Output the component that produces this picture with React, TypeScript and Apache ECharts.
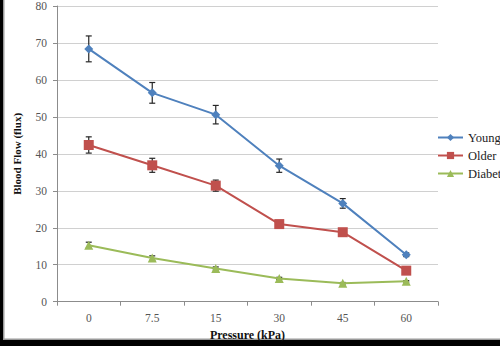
import React, { useEffect, useRef } from "react";
import * as echarts from "echarts";

const categories = ["0", "7.5", "15", "30", "45", "60"];
const young = [68.4, 56.5, 50.6, 36.8, 26.6, 12.7];
const youngErr = [3.5, 2.8, 2.5, 1.8, 1.3, 0.5];
const older = [42.4, 36.9, 31.4, 21.0, 18.8, 8.4];
const olderErr = [2.2, 1.9, 1.5, 0.8, 0.8, 0.4];
const diabetic = [15.3, 11.8, 9.0, 6.3, 5.0, 5.5];
const diabeticErr = [0.8, 0.6, 0.4, 0.3, 0.2, 0.2];

const seriesNames = ["Young", "Older", "Diabetic"];
const colors = ["#4F81BD", "#C0504D", "#9BBB59"];

function errorSeries(values: number[], errs: number[]) {
  return {
    type: "custom",
    silent: true,
    z: 1,
    data: values.map((v, i) => [i, v - errs[i], v + errs[i]]),
    renderItem: (params: any, api: any) => {
      const x = api.value(0);
      const lo = api.coord([x, api.value(1)]);
      const hi = api.coord([x, api.value(2)]);
      const cap = 3;
      const style = { stroke: "#262626", lineWidth: 1.2 };
      return {
        type: "group",
        children: [
          { type: "line", shape: { x1: lo[0], y1: lo[1], x2: hi[0], y2: hi[1] }, style },
          { type: "line", shape: { x1: lo[0] - cap, y1: lo[1], x2: lo[0] + cap, y2: lo[1] }, style },
          { type: "line", shape: { x1: hi[0] - cap, y1: hi[1], x2: hi[0] + cap, y2: hi[1] }, style },
        ],
      };
    },
  };
}

export default function App() {
  const ref = useRef<HTMLDivElement>(null);
  useEffect(() => {
    if (!ref.current) return;
    const chart = echarts.init(ref.current, undefined, { renderer: "svg" });
    const font = "Liberation Serif";
    const lineSeries = [young, older, diabetic].map((d, i) => ({
      name: seriesNames[i],
      type: "line",
      data: d,
      z: 3,
      symbol: ["diamond", "rect", "triangle"][i],
      symbolSize: [9, 10, 9][i],
      lineStyle: { color: colors[i], width: 2 },
      itemStyle: { color: colors[i] },
    }));
    chart.setOption({
      animation: false,
      backgroundColor: "#ffffff",
      textStyle: { fontFamily: font },
      grid: { left: 57, right: 62, top: 2.3, bottom: 44.3, containLabel: false },
      legend: {
        data: seriesNames,
        orient: "vertical",
        left: 437,
        top: 131,
        padding: 0,
        itemWidth: 25,
        itemHeight: 9,
        itemGap: 5,
        textStyle: { fontFamily: font, fontSize: 12.5, color: "#222" },
      },
      xAxis: {
        type: "category",
        data: categories,
        boundaryGap: true,
        name: "Pressure (kPa)",
        nameLocation: "middle",
        nameGap: 26,
        nameTextStyle: { fontFamily: font, fontWeight: "bold", fontSize: 12, color: "#111" },
        axisLine: { lineStyle: { color: "#8c8c8c" } },
        axisTick: { show: true, alignWithLabel: false, length: 4, lineStyle: { color: "#8c8c8c" } },
        axisLabel: { fontFamily: font, fontSize: 11.5, color: "#555", margin: 10 },
      },
      yAxis: {
        type: "value",
        min: 0,
        max: 80,
        interval: 10,
        name: "Blood Flow (flux)",
        nameLocation: "middle",
        nameGap: 35,
        nameRotate: 90,
        nameTextStyle: { fontFamily: font, fontWeight: "bold", fontSize: 11, color: "#111" },
        axisLine: { show: true, lineStyle: { color: "#8c8c8c" } },
        axisTick: { show: true, length: 4, lineStyle: { color: "#8c8c8c" } },
        axisLabel: { fontFamily: font, fontSize: 11.5, color: "#555", margin: 10 },
        splitLine: { lineStyle: { color: "#d0d0d0" } },
      },
      graphic: [
        { type: "rect", shape: { x: 0, y: 0, width: 3, height: 346 }, style: { fill: "#000" } },
        { type: "rect", shape: { x: 3, y: 0, width: 1.5, height: 346 }, style: { fill: "#9a9a9a" } },
        { type: "rect", shape: { x: 0, y: 340, width: 500, height: 6 }, style: { fill: "#000" } },
        { type: "rect", shape: { x: 3, y: 338.5, width: 497, height: 1.5 }, style: { fill: "#9a9a9a" } },
      ],
      series: [
        ...lineSeries,
        errorSeries(young, youngErr),
        errorSeries(older, olderErr),
        errorSeries(diabetic, diabeticErr),
      ],
    });
    return () => chart.dispose();
  }, []);
  return (
    <div
      ref={ref}
      style={{ position: "fixed", left: 0, top: 0, width: 500, height: 346 }}
    />
  );
}
